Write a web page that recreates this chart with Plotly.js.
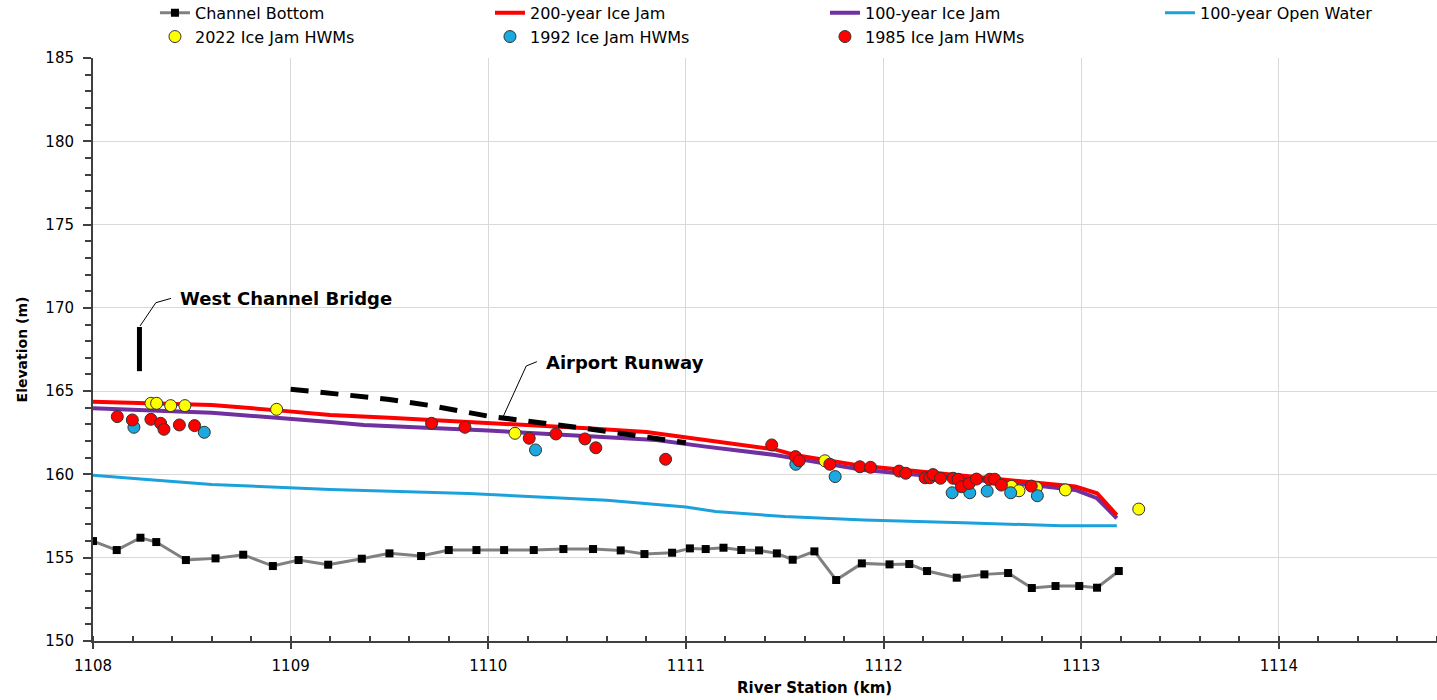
<!DOCTYPE html>
<html>
<head>
<meta charset="utf-8">
<script src="https://cdn.plot.ly/plotly-3.0.1.min.js"></script>
<style>html,body{margin:0;padding:0;background:#fff;}#chart{width:1437px;height:700px;}</style>
</head>
<body>
<div id="chart"></div>
<script>
// ---- Data ----
const bottomStation = [1108.00,1108.12,1108.24,1108.32,1108.47,1108.62,1108.76,1108.91,1109.04,1109.19,1109.36,1109.50,1109.66,1109.80,1109.94,1110.08,1110.23,1110.38,1110.53,1110.67,1110.79,1110.93,1111.02,1111.10,1111.19,1111.28,1111.37,1111.46,1111.54,1111.65,1111.76,1111.89,1112.03,1112.13,1112.22,1112.37,1112.51,1112.63,1112.75,1112.87,1112.99,1113.08,1113.19];
const bottomElev = [156.0,155.46,156.2,155.94,154.86,154.96,155.18,154.5,154.86,154.58,154.94,155.26,155.1,155.46,155.46,155.46,155.46,155.52,155.52,155.44,155.22,155.3,155.56,155.52,155.6,155.46,155.44,155.26,154.88,155.38,153.66,154.66,154.6,154.62,154.2,153.8,154.0,154.08,153.18,153.3,153.3,153.2,154.2];

const ij200Station = [1108.0,1108.6,1108.95,1109.2,1109.5,1110.0,1110.5,1110.8,1111.1,1111.45,1111.55,1111.9,1112.25,1112.75,1112.97,1113.08,1113.18];
const ij200Elev = [164.37,164.17,163.83,163.57,163.4,163.1,162.77,162.55,162.05,161.5,161.17,160.5,160.1,159.56,159.28,158.87,157.56];

const ij100Station = [1108.0,1108.6,1109.2,1109.37,1110.0,1110.5,1110.85,1111.1,1111.45,1111.9,1112.75,1112.97,1113.08,1113.18];
const ij100Elev = [163.97,163.7,163.15,162.97,162.63,162.33,162.07,161.67,161.17,160.27,159.37,159.07,158.57,157.37];

const owStation = [1108.0,1108.2,1108.24,1108.6,1109.2,1109.9,1110.6,1111.0,1111.15,1111.5,1111.9,1112.4,1112.9,1113.18];
const owElev = [159.95,159.8,159.73,159.4,159.1,158.85,158.45,158.05,157.77,157.47,157.27,157.1,156.92,156.92];

const hwm2022Station = [1108.293,1108.322,1108.393,1108.465,1108.929,1110.135,1111.703,1112.647,1112.685,1112.773,1112.92,1113.291];
const hwm2022Elev = [164.27,164.27,164.13,164.13,163.91,162.47,160.82,159.28,159.02,159.2,159.07,157.92];

const hwm1992Station = [1108.207,1108.563,1110.239,1111.556,1111.755,1112.347,1112.436,1112.524,1112.643,1112.778];
const hwm1992Elev = [162.83,162.53,161.47,160.61,159.87,158.9,158.9,159.0,158.9,158.72];

const hwm1985Station = [1108.123,1108.199,1108.293,1108.342,1108.359,1108.437,1108.514,1109.713,1109.882,1110.207,1110.342,1110.489,1110.544,1110.897,1111.434,1111.554,1111.573,1111.728,1111.88,1111.934,1112.078,1112.112,1112.21,1112.234,1112.25,1112.288,1112.352,1112.377,1112.394,1112.433,1112.47,1112.537,1112.562,1112.596,1112.747];
const hwm1985Elev = [163.47,163.27,163.31,163.07,162.71,162.97,162.93,163.07,162.83,162.17,162.43,162.13,161.6,160.91,161.77,161.07,160.82,160.61,160.46,160.43,160.2,160.07,159.8,159.8,159.99,159.77,159.77,159.71,159.26,159.46,159.72,159.71,159.71,159.36,159.3];

const runwayStation = [1109.0,1109.2,1109.5,1109.7,1110.0,1110.5,1111.0];
const runwayElev = [165.12,164.88,164.5,164.15,163.5,162.75,161.9];

const bridgeStation = [1108.235,1108.235];
const bridgeElev = [166.2,168.85];

const seriesNames = ['Channel Bottom','200-year Ice Jam','100-year Ice Jam','100-year Open Water','2022 Ice Jam HWMs','1992 Ice Jam HWMs','1985 Ice Jam HWMs'];
const labelBridge = 'West Channel Bridge';
const labelRunway = 'Airport Runway';

// ---- Annotation leader geometry ----
const bridgeLeaderX = [1108.238,1108.318,1108.395];
const bridgeLeaderY = [168.91,170.31,170.57];
const runwayLeaderX = [1110.069,1110.192,1110.246];
const runwayLeaderY = [163.31,166.51,166.77];

const FONT = 'DejaVu Sans, Verdana, sans-serif';
const mk = (c) => ({symbol:'circle', size:12, color:c, line:{color:'#333333', width:1}});

function pathFrom(xs, ys){
  return xs.map((x,i)=>(i===0?'M':'L')+x+','+ys[i]).join(' ');
}

const traces = [
  {x:bottomStation, y:bottomElev, name:seriesNames[0], mode:'lines+markers', legendrank:1,
   line:{color:'#808080', width:3}, marker:{symbol:'square', size:8, color:'#000000'}},
  {x:owStation, y:owElev, name:seriesNames[3], mode:'lines', legendrank:4,
   line:{color:'#1BA1DC', width:3}},
  {x:ij100Station, y:ij100Elev, name:seriesNames[2], mode:'lines', legendrank:3,
   line:{color:'#7030A0', width:4}},
  {x:ij200Station, y:ij200Elev, name:seriesNames[1], mode:'lines', legendrank:2,
   line:{color:'#FF0000', width:4}},
  {x:runwayStation, y:runwayElev, name:labelRunway, mode:'lines', showlegend:false,
   line:{color:'#000000', width:5, dash:'18px,12px'}},
  {x:bridgeStation, y:bridgeElev, name:labelBridge, mode:'lines', showlegend:false,
   line:{color:'#000000', width:5}},
  {x:hwm2022Station, y:hwm2022Elev, name:seriesNames[4], mode:'markers', legendrank:5, marker:mk('#FFFF00')},
  {x:hwm1992Station, y:hwm1992Elev, name:seriesNames[5], mode:'markers', legendrank:6, marker:mk('#1BA9E0')},
  {x:hwm1985Station, y:hwm1985Elev, name:seriesNames[6], mode:'markers', legendrank:7, marker:mk('#FF0000')}
];

const layout = {
  width:1437, height:700,
  margin:{l:93, r:0, t:58, b:59, autoexpand:false},
  paper_bgcolor:'#ffffff', plot_bgcolor:'#ffffff',
  font:{family:FONT, color:'#000000'},
  showlegend:true,
  legend:{orientation:'h', x:0.0461, xanchor:'left', y:1.1066, yanchor:'top',
    font:{family:FONT, size:16, color:'#000'}, entrywidth:290, itemwidth:30,
    traceorder:'normal', bgcolor:'rgba(0,0,0,0)'},
  xaxis:{range:[1108,1114.8], tick0:1108, dtick:1, showgrid:true, gridcolor:'#d9d9d9', gridwidth:1,
    zeroline:false, showline:true, linecolor:'#404040', linewidth:2,
    ticks:'outside', ticklen:6, tickwidth:1.5, tickcolor:'#404040', ticklabelstandoff:4,
    minor:{dtick:0.2, tick0:1108, ticks:'inside', ticklen:5, tickcolor:'#404040', tickwidth:1.5, showgrid:false},
    tickfont:{family:FONT, size:15, color:'#000'}},
  yaxis:{range:[150,185], tick0:150, dtick:5, showgrid:true, gridcolor:'#d9d9d9', gridwidth:1,
    zeroline:false, showline:true, linecolor:'#404040', linewidth:2,
    ticks:'outside', ticklen:8, tickwidth:1.5, tickcolor:'#404040', ticklabelstandoff:6,
    minor:{dtick:1, ticks:'outside', ticklen:6, tickcolor:'#404040', tickwidth:1.5, showgrid:false},
    tickfont:{family:FONT, size:15, color:'#000'},
    title:{text:'<b>Elevation (m)</b>', font:{family:FONT, size:14, color:'#000'}, standoff:14}},
  shapes:[
    {type:'path', xref:'x', yref:'y', path:pathFrom(bridgeLeaderX, bridgeLeaderY), line:{color:'#000', width:1}},
    {type:'path', xref:'x', yref:'y', path:pathFrom(runwayLeaderX, runwayLeaderY), line:{color:'#000', width:1}}
  ],
  annotations:[
    {x:1108.43, y:170.59, xref:'x', yref:'y', xanchor:'left', yanchor:'middle', showarrow:false,
     text:'<b>'+labelBridge+'</b>', font:{family:FONT, size:18, color:'#000'}},
    {x:1110.281, y:166.69, xref:'x', yref:'y', xanchor:'left', yanchor:'middle', showarrow:false,
     text:'<b>'+labelRunway+'</b>', font:{family:FONT, size:18, color:'#000'}},
    {x:0.537, y:-0.0806, xref:'paper', yref:'paper', xanchor:'center', yanchor:'middle', showarrow:false,
     text:'<b>River Station (km)</b>', font:{family:FONT, size:15, color:'#000'}}
  ]
};

Plotly.newPlot('chart', traces, layout, {displayModeBar:false, responsive:false});
</script>
</body>
</html>
